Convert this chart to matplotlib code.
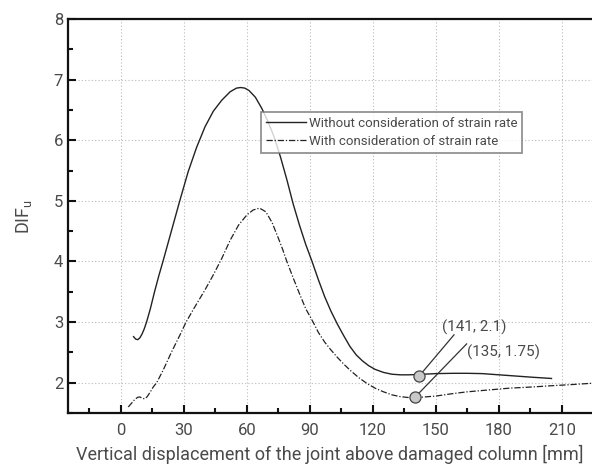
# DIF_u vs vertical displacement, with / without strain rate
import matplotlib.pyplot as plt
from matplotlib.ticker import MultipleLocator

plt.rcParams['font.family'] = ['Roboto', 'DejaVu Sans']

# curve: without strain rate
x_without = [6, 7, 8, 9, 10, 11, 12.2, 14, 16, 18, 20, 24, 28, 32, 36, 40, 44, 48,
             52, 55, 57, 59, 61, 64, 67, 70, 73, 76, 79, 82, 85, 88, 91, 94, 97, 100,
             103, 106, 109, 112, 115, 118, 121, 125, 129, 133, 137, 141, 150,
             158, 165, 172, 180, 188, 196, 205]
y_without = [2.76, 2.72, 2.71, 2.74, 2.8, 2.88, 3.0, 3.22, 3.5, 3.76, 4.0, 4.5, 5.0,
             5.48, 5.88, 6.22, 6.48, 6.66, 6.8, 6.86, 6.87, 6.86, 6.82, 6.71, 6.53,
             6.31, 6.05, 5.72, 5.35, 4.95, 4.6, 4.28, 4.0, 3.7, 3.42, 3.18, 2.97,
             2.78, 2.6, 2.46, 2.36, 2.28, 2.22, 2.17, 2.14, 2.13, 2.13, 2.135, 2.15,
             2.155, 2.155, 2.15, 2.13, 2.11, 2.09, 2.07]

# curve: with strain rate
x_with = [3.5, 5, 6.5, 8, 9, 10.3, 11.4, 12.5, 14, 15.4, 17, 20, 24, 28, 31, 35,
          40, 44, 48, 52, 56, 60, 63, 66, 69, 72, 75, 77, 79, 82, 85, 88, 91.5,
          94, 97, 100, 103, 106, 109, 113, 117, 121, 125, 129, 133, 137, 141,
          150, 158, 165, 175, 185, 196, 205, 215, 224]
y_with = [1.6, 1.66, 1.72, 1.76, 1.765, 1.74, 1.735, 1.77, 1.85, 1.93, 2.0, 2.2,
          2.5, 2.78, 3.0, 3.24, 3.53, 3.78, 4.05, 4.35, 4.6, 4.77, 4.85, 4.88,
          4.82, 4.64, 4.38, 4.2, 4.0, 3.73, 3.47, 3.22, 3.0, 2.83, 2.67, 2.54,
          2.42, 2.31, 2.21, 2.09, 1.99, 1.91, 1.85, 1.8, 1.77, 1.755, 1.755, 1.78,
          1.82, 1.85, 1.88, 1.91, 1.93, 1.95, 1.97, 1.99]

# marked points and their labels
pt_x = [142, 140]
pt_y = [2.11, 1.76]
pt_labels = ['(141, 2.1)', '(135, 1.75)']
lab_x = [153.1, 165]
lab_y = [2.92, 2.5]
lead_x = [158.6, 164.6]
lead_y = [2.79, 2.64]

fig = plt.figure(figsize=(5.92, 4.65), dpi=100)
ax = fig.add_axes([0.1149, 0.1118, 0.8851, 0.8473])

txt = '#4a4a4a'

ax.plot(x_without, y_without, color='#222222', linewidth=1.0, linestyle='-',
        label='Without consideration of strain rate')
ax.plot(x_with, y_with, color='#222222', linewidth=0.9, linestyle=(0, (5, 1.5, 1, 1.5)),
        label='With consideration of strain rate')

for i in range(len(pt_x)):
    ax.plot([pt_x[i], lead_x[i]], [pt_y[i], lead_y[i]], color='#333333', linewidth=0.9, zorder=4)
    ax.plot(pt_x[i], pt_y[i], 'o', markersize=8, markerfacecolor='#c8c8c8',
            markeredgecolor='#444444', markeredgewidth=0.9, zorder=5)
    ax.text(lab_x[i], lab_y[i], pt_labels[i], fontsize=11, color=txt, va='center', ha='left')

ax.set_xlim(-25.2, 224.3)
ax.set_ylim(1.5, 8)
ax.xaxis.set_major_locator(MultipleLocator(30))
ax.xaxis.set_minor_locator(MultipleLocator(15))
ax.yaxis.set_major_locator(MultipleLocator(1))
ax.yaxis.set_minor_locator(MultipleLocator(0.5))
ax.set_xticks([0, 30, 60, 90, 120, 150, 180, 210])

ax.grid(True, which='major', linestyle=(0, (1, 2)), color='#bbbbbb', linewidth=0.8)
ax.tick_params(which='both', direction='in', colors='#111111', labelcolor=txt, labelsize=12,
               width=1.5)
ax.tick_params(which='major', length=6)
ax.tick_params(which='minor', length=3.5)
ax.tick_params(axis='x', pad=7)

for s in ['left', 'bottom', 'top']:
    ax.spines[s].set_linewidth(1.6)
    ax.spines[s].set_color('#111111')
ax.spines['right'].set_visible(False)

ax.set_xlabel('Vertical displacement of the joint above damaged column [mm]',
              fontsize=13, color=txt, labelpad=5)
ax.set_ylabel(r'DIF$_{\mathregular{u}}$', fontsize=13, color=txt, labelpad=14)

leg = ax.legend(loc='upper left', bbox_to_anchor=(0.356, 0.782), fontsize=9.5,
                frameon=True, fancybox=False, handlelength=3.0, handletextpad=0.2,
                borderpad=0.4, labelspacing=0.4, labelcolor=txt)
leg.get_frame().set_edgecolor('#777777')
leg.get_frame().set_linewidth(1.3)

fig.savefig('out.png', dpi=100)
